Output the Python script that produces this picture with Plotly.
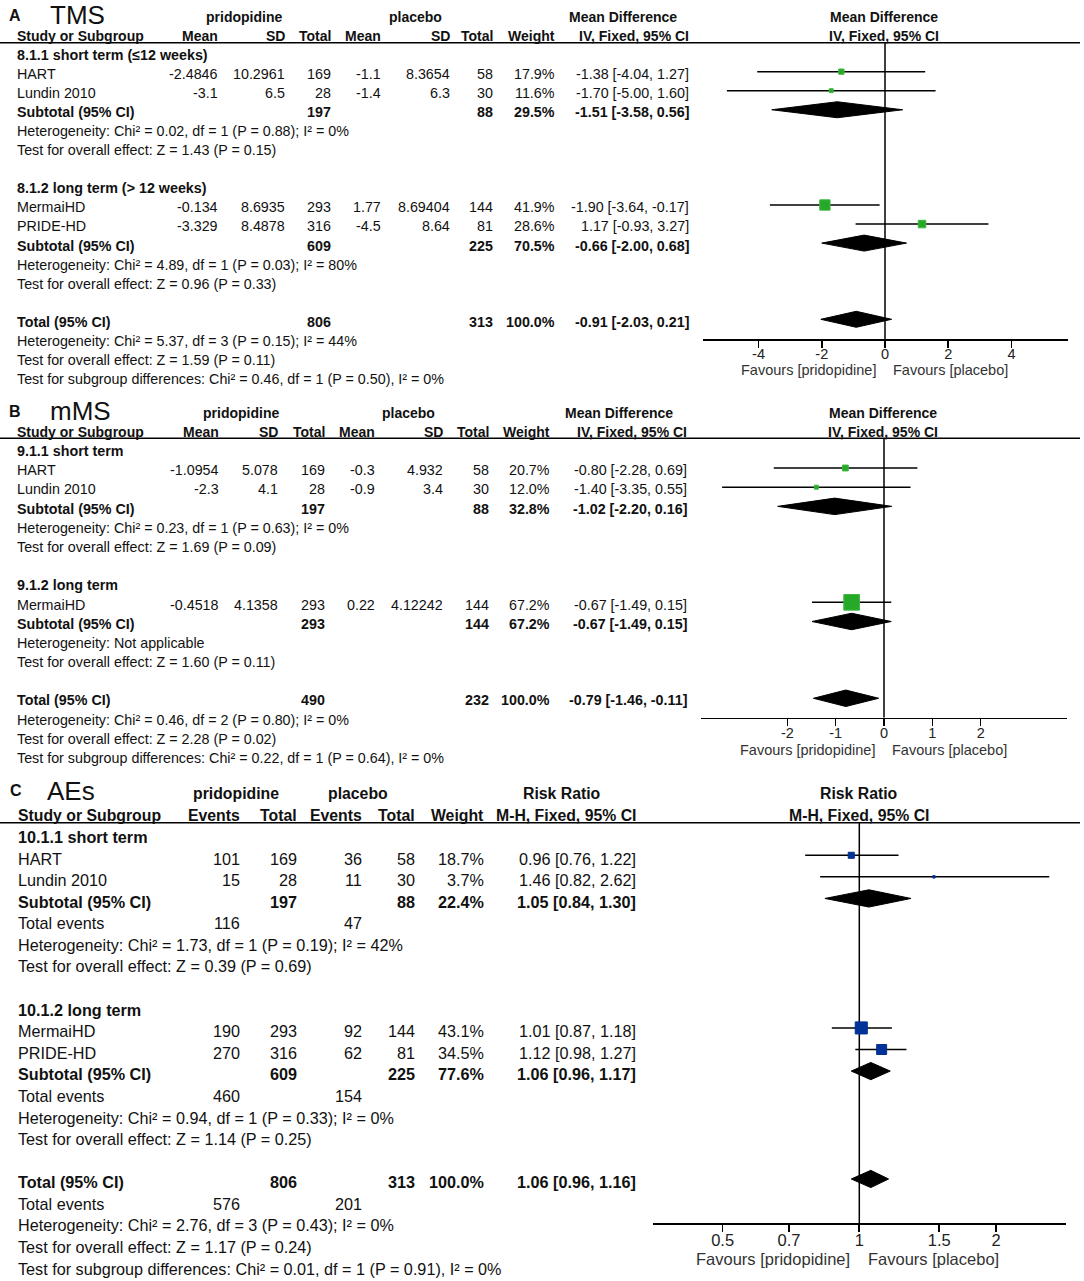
import plotly.graph_objects as go

W, H = 1084, 1281
TFONT = "Liberation Sans, Arial, sans-serif"
AFONT = "Liberation Sans, Arial, sans-serif"

# ---------------- Panel A : TMS (mean difference) ----------------
A_groups = ["8.1.1 short term (≤12 weeks)", "8.1.2 long term (> 12 weeks)"]
A_studies = ["HART", "Lundin 2010", "MermaiHD", "PRIDE-HD"]
A_mean_p = ["-2.4846", "-3.1", "-0.134", "-3.329"]
A_sd_p = ["10.2961", "6.5", "8.6935", "8.4878"]
A_n_p = [169, 28, 293, 316]
A_mean_c = ["-1.1", "-1.4", "1.77", "-4.5"]
A_sd_c = ["8.3654", "6.3", "8.69404", "8.64"]
A_n_c = [58, 30, 144, 81]
A_weight = [17.9, 11.6, 41.9, 28.6]
A_md = [-1.38, -1.70, -1.90, 1.17]
A_lo = [-4.04, -5.00, -3.64, -0.93]
A_hi = [1.27, 1.60, -0.17, 3.27]
A_pool_labels = ["Subtotal (95% CI)", "Subtotal (95% CI)", "Total (95% CI)"]
A_pool_n_p = [197, 609, 806]
A_pool_n_c = [88, 225, 313]
A_pool_weight = [29.5, 70.5, 100.0]
A_pool_md = [-1.51, -0.66, -0.91]
A_pool_lo = [-3.58, -2.00, -2.03]
A_pool_hi = [0.56, 0.68, 0.21]
A_stats = [
    "Heterogeneity: Chi² = 0.02, df = 1 (P = 0.88); I² = 0%",
    "Test for overall effect: Z = 1.43 (P = 0.15)",
    "Heterogeneity: Chi² = 4.89, df = 1 (P = 0.03); I² = 80%",
    "Test for overall effect: Z = 0.96 (P = 0.33)",
    "Heterogeneity: Chi² = 5.37, df = 3 (P = 0.15); I² = 44%",
    "Test for overall effect: Z = 1.59 (P = 0.11)",
    "Test for subgroup differences: Chi² = 0.46, df = 1 (P = 0.50), I² = 0%",
]
A_ticks = [-4, -2, 0, 2, 4]

# ---------------- Panel B : mMS (mean difference) ----------------
B_groups = ["9.1.1 short term", "9.1.2 long term"]
B_studies = ["HART", "Lundin 2010", "MermaiHD"]
B_mean_p = ["-1.0954", "-2.3", "-0.4518"]
B_sd_p = ["5.078", "4.1", "4.1358"]
B_n_p = [169, 28, 293]
B_mean_c = ["-0.3", "-0.9", "0.22"]
B_sd_c = ["4.932", "3.4", "4.12242"]
B_n_c = [58, 30, 144]
B_weight = [20.7, 12.0, 67.2]
B_md = [-0.80, -1.40, -0.67]
B_lo = [-2.28, -3.35, -1.49]
B_hi = [0.69, 0.55, 0.15]
B_pool_labels = ["Subtotal (95% CI)", "Subtotal (95% CI)", "Total (95% CI)"]
B_pool_n_p = [197, 293, 490]
B_pool_n_c = [88, 144, 232]
B_pool_weight = [32.8, 67.2, 100.0]
B_pool_md = [-1.02, -0.67, -0.79]
B_pool_lo = [-2.20, -1.49, -1.46]
B_pool_hi = [0.16, 0.15, -0.11]
B_stats = [
    "Heterogeneity: Chi² = 0.23, df = 1 (P = 0.63); I² = 0%",
    "Test for overall effect: Z = 1.69 (P = 0.09)",
    "Heterogeneity: Not applicable",
    "Test for overall effect: Z = 1.60 (P = 0.11)",
    "Heterogeneity: Chi² = 0.46, df = 2 (P = 0.80); I² = 0%",
    "Test for overall effect: Z = 2.28 (P = 0.02)",
    "Test for subgroup differences: Chi² = 0.22, df = 1 (P = 0.64), I² = 0%",
]
B_ticks = [-2, -1, 0, 1, 2]

# ---------------- Panel C : AEs (risk ratio) ----------------
C_groups = ["10.1.1 short term", "10.1.2 long term"]
C_studies = ["HART", "Lundin 2010", "MermaiHD", "PRIDE-HD"]
C_ev_p = [101, 15, 190, 270]
C_n_p = [169, 28, 293, 316]
C_ev_c = [36, 11, 92, 62]
C_n_c = [58, 30, 144, 81]
C_weight = [18.7, 3.7, 43.1, 34.5]
C_rr = [0.96, 1.46, 1.01, 1.12]
C_lo = [0.76, 0.82, 0.87, 0.98]
C_hi = [1.22, 2.62, 1.18, 1.27]
C_pool_labels = ["Subtotal (95% CI)", "Subtotal (95% CI)", "Total (95% CI)"]
C_pool_n_p = [197, 609, 806]
C_pool_n_c = [88, 225, 313]
C_pool_weight = [22.4, 77.6, 100.0]
C_pool_rr = [1.05, 1.06, 1.06]
C_pool_lo = [0.84, 0.96, 0.96]
C_pool_hi = [1.30, 1.17, 1.16]
C_tot_ev_p = [116, 460, 576]
C_tot_ev_c = [47, 154, 201]
C_stats = [
    "Heterogeneity: Chi² = 1.73, df = 1 (P = 0.19); I² = 42%",
    "Test for overall effect: Z = 0.39 (P = 0.69)",
    "Heterogeneity: Chi² = 0.94, df = 1 (P = 0.33); I² = 0%",
    "Test for overall effect: Z = 1.14 (P = 0.25)",
    "Heterogeneity: Chi² = 2.76, df = 3 (P = 0.43); I² = 0%",
    "Test for overall effect: Z = 1.17 (P = 0.24)",
    "Test for subgroup differences: Chi² = 0.01, df = 1 (P = 0.91), I² = 0%",
]
C_ticks = [0.5, 0.7, 1, 1.5, 2]
C_tick_labels = ["0.5", "0.7", "1", "1.5", "2"]

# ---------------- styling / geometry (pixels) ----------------
GREEN, GREEN_EDGE = "#28a828", "#3cb83c"
BLUE, BLUE_EDGE = "#003399", "#002e8a"
AB_BODY, AB_HEAD = 14.3, 14.0
C_BODY, C_HEAD = 16.2, 15.8

fig = go.Figure()
ann = []
shapes = []


def text(x, y, s, anchor="left", bold=False, size=AB_BODY, color="#111111", family=TFONT):
    ann.append(dict(x=x / W, y=1 - y / H, xref="paper", yref="paper",
                    text=f"<b>{s}</b>" if bold else s, showarrow=False,
                    xanchor=anchor, yanchor="middle", borderpad=0,
                    font=dict(size=size, color=color, family=family)))


def hline(y):
    shapes.append(dict(type="line", xref="paper", yref="paper", x0=0, x1=1080 / W,
                       y0=1 - y / H, y1=1 - y / H, line=dict(color="black", width=1.6)))


def fmt_ci(e, l, h):
    return f"{e:.2f} [{l:.2f}, {h:.2f}]"


def forest(k, rows, est, lo, hi, wts, prow, pest, plo, phi, color, edge, sa, sb, null_x, dh, yr):
    xa = "x" if k == 1 else f"x{k}"
    ya = "y" if k == 1 else f"y{k}"
    common = dict(xaxis=xa, yaxis=ya, hoverinfo="skip", showlegend=False)
    fig.add_trace(go.Scatter(x=[null_x, null_x], y=list(yr), mode="lines",
                             line=dict(color="black", width=1.5), **common))
    xs, ys = [], []
    for r, l, h in zip(rows, lo, hi):
        xs += [l, h, None]
        ys += [r, r, None]
    fig.add_trace(go.Scatter(x=xs, y=ys, mode="lines",
                             line=dict(color="black", width=1.5), **common))
    fig.add_trace(go.Scatter(x=est, y=rows, mode="markers",
                             marker=dict(symbol="square", size=[sa + sb * w for w in wts],
                                         color=color, opacity=1,
                                         line=dict(color=edge, width=1)),
                             **common))
    xs, ys = [], []
    for r, e, l, h in zip(prow, pest, plo, phi):
        xs += [l, e, h, e, l, None]
        ys += [r, r - dh, r, r + dh, r, None]
    fig.add_trace(go.Scatter(x=xs, y=ys, mode="lines", fill="toself", fillcolor="black",
                             line=dict(color="black", width=1), **common))


def axes(k, dom_px, xrange, line_y, axis_y, m0, rh, tickvals, ticktext, tsize, xtype="linear"):
    yr = ((axis_y - m0) / rh, (line_y - m0) / rh)
    xa = "xaxis" if k == 1 else f"xaxis{k}"
    ya = "yaxis" if k == 1 else f"yaxis{k}"
    fig.layout[xa] = dict(domain=[dom_px[0] / W, dom_px[1] / W], range=xrange, type=xtype,
                          anchor="y" if k == 1 else f"y{k}", showgrid=False, zeroline=False,
                          showline=True, linecolor="black", linewidth=1.6,
                          ticks="outside", ticklen=7, tickwidth=1.6, tickcolor="black",
                          tickvals=tickvals, ticktext=ticktext, ticklabelstandoff=-6,
                          tickfont=dict(family=AFONT, size=tsize, color="#222222"),
                          fixedrange=True)
    fig.layout[ya] = dict(domain=[1 - axis_y / H, 1 - line_y / H], range=list(yr),
                          visible=False, anchor="x" if k == 1 else f"x{k}", fixedrange=True)
    return yr


# ======== Panel A ========
A_m0, A_rh, A_t0 = 52.6, 19.05, 55.0
A_line, A_axis = 42.7, 339.3
A_cols = [219, 286, 332, 382, 451, 494, 556, 690]
A_study_rows, A_pool_rows, A_group_rows = [1, 2, 8, 9], [3, 10, 14], [0, 7]
A_stat_rows = [4, 5, 11, 12, 15, 16, 17]

text(8, 15, "A", bold=True, size=16, family=AFONT)
text(49, 15, "TMS", size=26)
for s, x in zip(["pridopidine", "placebo", "Mean Difference"], [244, 415, 623]):
    text(x, 17, s, anchor="center", bold=True, size=AB_HEAD)
text(884, 17, "Mean Difference", anchor="center", bold=True, size=AB_HEAD)
text(16, 36, "Study or Subgroup", bold=True, size=AB_HEAD)
for s, x in zip(["Mean", "SD", "Total", "Mean", "SD", "Total", "Weight", "IV, Fixed, 95% CI"], A_cols):
    text(x, 36, s, anchor="right", bold=True, size=AB_HEAD)
text(884, 36, "IV, Fixed, 95% CI", anchor="center", bold=True, size=AB_HEAD)
hline(A_line)
ty = lambda r: A_t0 + r * A_rh
for r, g in zip(A_group_rows, A_groups):
    text(16, ty(r), g, bold=True)
for i, r in enumerate(A_study_rows):
    text(16, ty(r), A_studies[i])
    vals = [A_mean_p[i], A_sd_p[i], str(A_n_p[i]), A_mean_c[i], A_sd_c[i], str(A_n_c[i]),
            f"{A_weight[i]:.1f}%", fmt_ci(A_md[i], A_lo[i], A_hi[i])]
    for v, x in zip(vals, A_cols):
        text(x, ty(r), v, anchor="right")
for i, r in enumerate(A_pool_rows):
    text(16, ty(r), A_pool_labels[i], bold=True)
    for v, x in zip([str(A_pool_n_p[i]), str(A_pool_n_c[i]), f"{A_pool_weight[i]:.1f}%",
                     fmt_ci(A_pool_md[i], A_pool_lo[i], A_pool_hi[i])],
                    [A_cols[2], A_cols[5], A_cols[6], A_cols[7]]):
        text(x, ty(r), v, anchor="right", bold=True)
for r, s in zip(A_stat_rows, A_stats):
    text(16, ty(r), s)
A_zero, A_unit = 885.0, 31.625
A_dom = [702.7, 1067.7]
A_yr = axes(1, A_dom, [(A_dom[0] - A_zero) / A_unit, (A_dom[1] - A_zero) / A_unit],
            A_line, A_axis, A_m0, A_rh, A_ticks, [str(t) for t in A_ticks], 14.5)
forest(1, A_study_rows, A_md, A_lo, A_hi, A_weight, A_pool_rows, A_pool_md, A_pool_lo, A_pool_hi,
       GREEN, GREEN_EDGE, 1.5, 0.21, 0, 0.42, A_yr)
text(808, 370, "Favours [pridopidine]", anchor="center", size=14.5, color="#333333", family=AFONT)
text(950, 370, "Favours [placebo]", anchor="center", size=14.5, color="#333333", family=AFONT)

# ======== Panel B ========
B_m0, B_rh, B_t0 = 448.8, 19.19, 451.0
B_line, B_axis = 438.3, 717.7
B_cols = [220, 279, 326, 376, 444, 490, 551, 688]
B_study_rows, B_pool_rows, B_group_rows = [1, 2, 8], [3, 9, 13], [0, 7]
B_stat_rows = [4, 5, 10, 11, 14, 15, 16]

text(8, 411, "B", bold=True, size=16, family=AFONT)
text(49, 411, "mMS", size=26)
for s, x in zip(["pridopidine", "placebo", "Mean Difference"], [241, 408, 619]):
    text(x, 413, s, anchor="center", bold=True, size=AB_HEAD)
text(883, 413, "Mean Difference", anchor="center", bold=True, size=AB_HEAD)
text(16, 432, "Study or Subgroup", bold=True, size=AB_HEAD)
for s, x in zip(["Mean", "SD", "Total", "Mean", "SD", "Total", "Weight", "IV, Fixed, 95% CI"], B_cols):
    text(x, 432, s, anchor="right", bold=True, size=AB_HEAD)
text(883, 432, "IV, Fixed, 95% CI", anchor="center", bold=True, size=AB_HEAD)
hline(B_line)
ty = lambda r: B_t0 + r * B_rh
for r, g in zip(B_group_rows, B_groups):
    text(16, ty(r), g, bold=True)
for i, r in enumerate(B_study_rows):
    text(16, ty(r), B_studies[i])
    vals = [B_mean_p[i], B_sd_p[i], str(B_n_p[i]), B_mean_c[i], B_sd_c[i], str(B_n_c[i]),
            f"{B_weight[i]:.1f}%", fmt_ci(B_md[i], B_lo[i], B_hi[i])]
    for v, x in zip(vals, B_cols):
        text(x, ty(r), v, anchor="right")
for i, r in enumerate(B_pool_rows):
    text(16, ty(r), B_pool_labels[i], bold=True)
    for v, x in zip([str(B_pool_n_p[i]), str(B_pool_n_c[i]), f"{B_pool_weight[i]:.1f}%",
                     fmt_ci(B_pool_md[i], B_pool_lo[i], B_pool_hi[i])],
                    [B_cols[2], B_cols[5], B_cols[6], B_cols[7]]):
        text(x, ty(r), v, anchor="right", bold=True)
for r, s in zip(B_stat_rows, B_stats):
    text(16, ty(r), s)
B_zero, B_unit = 884.0, 48.33
B_dom = [701.0, 1067.3]
B_yr = axes(2, B_dom, [(B_dom[0] - B_zero) / B_unit, (B_dom[1] - B_zero) / B_unit],
            B_line, B_axis, B_m0, B_rh, B_ticks, [str(t) for t in B_ticks], 14.5)
forest(2, B_study_rows, B_md, B_lo, B_hi, B_weight, B_pool_rows, B_pool_md, B_pool_lo, B_pool_hi,
       GREEN, GREEN_EDGE, 1.5, 0.21, 0, 0.43, B_yr)
text(807, 750, "Favours [pridopidine]", anchor="center", size=14.5, color="#333333", family=AFONT)
text(949, 750, "Favours [placebo]", anchor="center", size=14.5, color="#333333", family=AFONT)

# ======== Panel C ========
C_m0, C_rh, C_t0 = 833.7, 21.58, 837.0
C_line, C_axis = 822.7, 1223.3
C_cols = [241, 298, 363, 416, 485, 637]
C_study_rows, C_pool_rows, C_group_rows = [1, 2, 9, 10], [3, 11, 16], [0, 8]
C_ev_rows = [4, 12, 17]
C_stat_rows = [5, 6, 13, 14, 18, 19, 20]

text(9, 790, "C", bold=True, size=16, family=AFONT)
text(46, 791, "AEs", size=26)
for s, x in zip(["pridopidine", "placebo", "Risk Ratio"], [236, 358, 562]):
    text(x, 793, s, anchor="center", bold=True, size=C_HEAD)
text(859, 793, "Risk Ratio", anchor="center", bold=True, size=C_HEAD)
text(17, 815, "Study or Subgroup", bold=True, size=C_HEAD)
for s, x in zip(["Events", "Total", "Events", "Total", "Weight", "M-H, Fixed, 95% CI"], C_cols):
    text(x, 815, s, anchor="right", bold=True, size=C_HEAD)
text(859, 815, "M-H, Fixed, 95% CI", anchor="center", bold=True, size=C_HEAD)
hline(C_line)
ty = lambda r: C_t0 + r * C_rh
for r, g in zip(C_group_rows, C_groups):
    text(17, ty(r), g, bold=True, size=C_BODY)
for i, r in enumerate(C_study_rows):
    text(17, ty(r), C_studies[i], size=C_BODY)
    vals = [str(C_ev_p[i]), str(C_n_p[i]), str(C_ev_c[i]), str(C_n_c[i]),
            f"{C_weight[i]:.1f}%", fmt_ci(C_rr[i], C_lo[i], C_hi[i])]
    for v, x in zip(vals, C_cols):
        text(x, ty(r), v, anchor="right", size=C_BODY)
for i, r in enumerate(C_pool_rows):
    text(17, ty(r), C_pool_labels[i], bold=True, size=C_BODY)
    for v, x in zip([str(C_pool_n_p[i]), str(C_pool_n_c[i]), f"{C_pool_weight[i]:.1f}%",
                     fmt_ci(C_pool_rr[i], C_pool_lo[i], C_pool_hi[i])],
                    [C_cols[1], C_cols[3], C_cols[4], C_cols[5]]):
        text(x, ty(r), v, anchor="right", bold=True, size=C_BODY)
for i, r in enumerate(C_ev_rows):
    text(17, ty(r), "Total events", size=C_BODY)
    text(C_cols[0], ty(r), str(C_tot_ev_p[i]), anchor="right", size=C_BODY)
    text(C_cols[2], ty(r), str(C_tot_ev_c[i]), anchor="right", size=C_BODY)
for r, s in zip(C_stat_rows, C_stats):
    text(17, ty(r), s, size=C_BODY)
C_one, C_dec = 859.3, 454.1
C_dom = [653.3, 1066.0]
C_yr = axes(3, C_dom, [(C_dom[0] - C_one) / C_dec, (C_dom[1] - C_one) / C_dec],
            C_line, C_axis, C_m0, C_rh, C_ticks, C_tick_labels, 16.5, xtype="log")
forest(3, C_study_rows, C_rr, C_lo, C_hi, C_weight, C_pool_rows, C_pool_rr, C_pool_lo, C_pool_hi,
       BLUE, BLUE_EDGE, 1.5, 0.245, 1, 0.40, C_yr)
text(773, 1259, "Favours [pridopidine]", anchor="center", size=16.5, color="#333333", family=AFONT)
text(933, 1259, "Favours [placebo]", anchor="center", size=16.5, color="#333333", family=AFONT)

fig.update_layout(width=W, height=H, autosize=False,
                  margin=dict(l=0, r=0, t=0, b=0, pad=0),
                  paper_bgcolor="white", plot_bgcolor="rgba(0,0,0,0)",
                  showlegend=False, annotations=ann, shapes=shapes,
                  font=dict(family=AFONT, color="#111111"))

fig.write_html("out.html", config={"displayModeBar": False, "staticPlot": True},
               post_script="document.body.style.margin='0';document.body.style.overflow='hidden';")
